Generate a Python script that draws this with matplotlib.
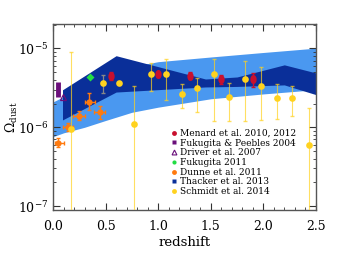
import numpy as np
import matplotlib
matplotlib.use("Agg")
import matplotlib.pyplot as plt
from matplotlib.lines import Line2D

plt.rcParams['font.family'] = ['DejaVu Serif']
plt.rcParams['mathtext.fontset'] = 'dejavuserif'

# Thacker et al. 2013 band
thk_z = [0.09, 0.6, 1.45, 1.75, 2.2, 2.5]
thk_hi = [2.99e-6, 8.1e-6, 4.1e-6, 4.35e-6, 6.2e-6, 4.9e-6]
thk_lo = [1.24e-6, 2.8e-6, 3.25e-6, 3.3e-6, 3.45e-6, 2.6e-6]

# light band
band_z = [0.0, 0.1, 0.3, 0.5, 0.75, 1.0, 1.5, 2.0, 2.5]
band_hi = [2.1e-6, 2.45e-6, 3.4e-6, 4.6e-6, 5.9e-6, 6.8e-6, 7.8e-6, 8.9e-6, 1.01e-5]
band_lo = [7.6e-7, 8.5e-7, 1.0e-6, 1.22e-6, 1.55e-6, 1.8e-6, 2.3e-6, 2.65e-6, 3.0e-6]

# Schmidt et al. 2014
sch_z = [0.174, 0.624, 0.772, 0.928, 1.073, 1.228, 1.374, 1.53, 1.674, 1.83, 1.975, 2.13, 2.276, 2.43]
sch_y = [9.5e-7, 3.7e-6, 1.1e-6, 4.7e-6, 4.7e-6, 2.65e-6, 3.13e-6, 4.7e-6, 2.45e-6, 4.1e-6, 3.38e-6, 2.38e-6, 2.38e-6, 5.9e-7]
sch_hi = [9.0e-6, 3.7e-6, 3.35e-6, 6.6e-6, 7.3e-6, 3.55e-6, 4.2e-6, 7.4e-6, 3.7e-6, 7.0e-6, 5.8e-6, 3.5e-6, 3.35e-6, 1.78e-6]
sch_lo = [1e-9, 3.7e-6, 1e-9, 2.9e-6, 2.23e-6, 1.75e-6, 1.58e-6, 1.2e-6, 1.2e-6, 1.2e-6, 1.24e-6, 1.27e-6, 1.4e-6, 1e-9]

# Schmidt point with grey bar
schg_z = [0.472]
schg_y = [3.7e-6]
schg_hi = [4.6e-6]
schg_lo = [2.75e-6]

# Menard et al. 2010, 2012
men_z = [0.55, 0.994, 1.30, 1.60, 1.902]
men_y = [4.5e-6, 4.7e-6, 4.53e-6, 4.07e-6, 4.07e-6]
men_hi = [5.0e-6, 5.1e-6, 5.0e-6, 4.6e-6, 4.85e-6]
men_lo = [4.0e-6, 4.3e-6, 4.1e-6, 3.5e-6, 3.2e-6]

# Dunne et al. 2011
dun_z = [0.05, 0.145, 0.25, 0.345, 0.446]
dun_y = [6.4e-7, 1.0e-6, 1.41e-6, 2.12e-6, 1.58e-6]
dun_hi = [7.3e-7, 1.12e-6, 1.63e-6, 2.7e-6, 1.89e-6]
dun_lo = [5.7e-7, 0.9e-6, 1.24e-6, 1.66e-6, 1.28e-6]
dun_zlo = [0.02, 0.09, 0.19, 0.30, 0.39]
dun_zhi = [0.10, 0.19, 0.30, 0.40, 0.49]

# Fukugita & Peebles 2004, Driver 2007, Fukugita 2011
fp_z = [0.05]
fp_lo = [2.43e-6]
fp_hi = [3.77e-6]
drv_z = [0.092]
drv_y = [2.45e-6]
fuk_z = [0.351]
fuk_y = [4.4e-6]

c_yel = '#FFD21F'
c_red = '#C8102E'
c_org = '#FF7A0E'
c_dark = '#0A2F99'
c_light = '#4A98F0'
c_grn = '#22DD44'
c_pur = '#6A0F7A'


def asym(y, lo, hi):
    y = np.array(y)
    return [y - np.array(lo), np.array(hi) - y]


fig = plt.figure(figsize=(3.4, 2.6), dpi=100)
ax = fig.add_axes([0.156, 0.192, 0.773, 0.716])

ax.fill_between(band_z, band_lo, band_hi, color=c_light, lw=0, zorder=1)
ax.fill_between(thk_z, thk_lo, thk_hi, color=c_dark, lw=0, zorder=2)

t = np.linspace(0, 2 * np.pi, 40)
oval = list(zip(0.7 * np.cos(t), np.sin(t)))

ax.errorbar(sch_z, sch_y, yerr=asym(sch_y, sch_lo, sch_hi), fmt='none',
            ecolor=c_yel, alpha=0.7, elinewidth=0.8, capsize=1.5, zorder=3)
ax.errorbar(schg_z, schg_y, yerr=asym(schg_y, schg_lo, schg_hi), fmt='none',
            ecolor='#888888', elinewidth=0.9, capsize=1.5, zorder=3)
ax.plot(sch_z + schg_z, sch_y + schg_y, 'o', color=c_yel, ms=4.8, mec='none', zorder=5)

ax.errorbar(men_z, men_y, yerr=asym(men_y, men_lo, men_hi), fmt='none',
            ecolor=c_red, elinewidth=1.0, capsize=1.2, zorder=4)
ax.plot(men_z, men_y, marker=oval, ls='none', color=c_red, ms=6.5, mec='none', zorder=5)

ax.errorbar(dun_z, dun_y, yerr=asym(dun_y, dun_lo, dun_hi),
            xerr=asym(dun_z, dun_zlo, dun_zhi), fmt='o', color=c_org, ms=4.5,
            mec='none', elinewidth=1.0, capsize=1.5, zorder=4)

ax.vlines(fp_z, fp_lo, fp_hi, color=c_pur, lw=3.5, zorder=4)
ax.plot(drv_z, drv_y, '^', mfc='none', mec=c_pur, mew=0.9, ms=4.5, zorder=5)
ax.plot(fuk_z, fuk_y, 'D', color=c_grn, ms=4, mec='none', zorder=5)

ax.set_xlim(0, 2.5)
ax.set_yscale('log')
ax.set_ylim(8.9e-8, 2.05e-5)
ax.set_xticks([0.0, 0.5, 1.0, 1.5, 2.0, 2.5])
ax.set_xticks(np.arange(0, 2.51, 0.1), minor=True)
ax.tick_params(which='both', direction='in', top=True, right=True, colors='#333333',
               labelcolor='black', labelsize=9)
ax.tick_params(which='major', length=5, width=0.8)
ax.tick_params(axis='x', which='major', pad=7)
ax.tick_params(which='minor', length=2.5, width=0.6)
for s in ax.spines.values():
    s.set_color('#555555')
    s.set_linewidth(1.0)
ax.set_xlabel('redshift', fontsize=9.5, labelpad=2)
ax.set_ylabel(r'$\Omega_{\rm dust}$', fontsize=9)
ax.yaxis.set_label_coords(-0.125, 0.5)

handles = [
    Line2D([], [], ls='none', marker='o', color=c_red, mec='none', ms=3.5),
    Line2D([], [], ls='none', marker='s', color=c_pur, mec='none', ms=3.5),
    Line2D([], [], ls='none', marker='^', mfc='none', mec=c_pur, mew=0.8, ms=3.5),
    Line2D([], [], ls='none', marker='o', color=c_grn, mec='none', ms=3),
    Line2D([], [], ls='none', marker='o', color=c_org, mec='none', ms=3.5),
    Line2D([], [], ls='none', marker='s', color=c_dark, mec='none', ms=3.5),
    Line2D([], [], ls='none', marker='o', color=c_yel, mec='none', ms=3.5),
]
labels = ['Menard et al. 2010, 2012', 'Fukugita & Peebles 2004', 'Driver et al. 2007',
          'Fukugita 2011', 'Dunne et al. 2011', 'Thacker et al. 2013', 'Schmidt et al. 2014']
ax.legend(handles, labels, loc='lower left', bbox_to_anchor=(0.45, 0.075), frameon=False,
          fontsize=6.5, handlelength=0.7, handletextpad=0.3, labelspacing=0.08,
          borderpad=0, borderaxespad=0)

fig.savefig('out.png', dpi=100)
